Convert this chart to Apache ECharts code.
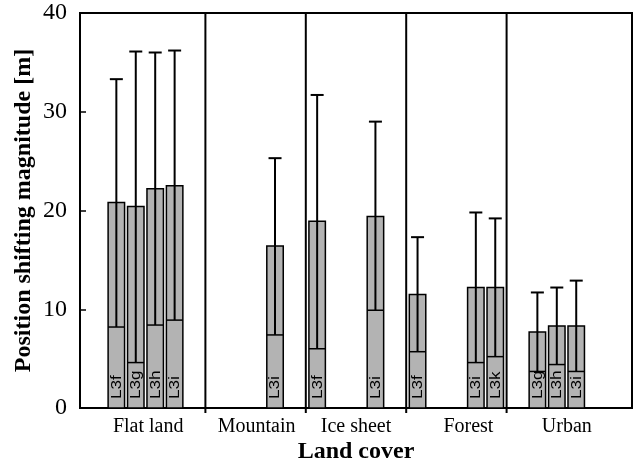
<!DOCTYPE html>
<html>
<head>
<meta charset="utf-8">
<script src="https://cdn.jsdelivr.net/npm/echarts@6/dist/echarts.min.js"></script>
<style>
  html, body { margin: 0; padding: 0; background: #fff; }
  #chart { width: 637px; height: 460px; }
</style>
</head>
<body>
<div id="chart"></div>
<script>
// Land-cover classes on the category axis
const landCovers = ['Flat land', 'Mountain', 'Ice sheet', 'Forest', 'Urban'];
// Product releases, one slot per release inside each land-cover group
const releases = ['L3f', 'L3g', 'L3h', 'L3i', 'L3k'];
const yTicks = [0, 10, 20, 30, 40];

// Bar height per land cover (null = release not evaluated there)
const barL3f = [20.8, null, 18.9, 11.5, null];
const barL3g = [20.4, null, null, null, 7.7];
const barL3h = [22.2, null, null, null, 8.3];
const barL3i = [22.5, 16.4, 19.4, 12.2, 8.3];
const barL3k = [null, null, null, 12.2, null];

// Division line drawn inside each bar
const lowL3f = [8.2, null, 6.0, 5.7, null];
const lowL3g = [4.6, null, null, null, 3.7];
const lowL3h = [8.4, null, null, null, 4.4];
const lowL3i = [8.9, 7.4, 9.9, 4.6, 3.7];
const lowL3k = [null, null, null, 5.2, null];

// Upper end of the whisker
const capL3f = [33.3, null, 31.7, 17.3, null];
const capL3g = [36.1, null, null, null, 11.7];
const capL3h = [36.0, null, null, null, 12.2];
const capL3i = [36.2, 25.3, 29.0, 19.8, 12.9];
const capL3k = [null, null, null, 19.2, null];

const bars = [barL3f, barL3g, barL3h, barL3i, barL3k];
const lows = [lowL3f, lowL3g, lowL3h, lowL3i, lowL3k];
const caps = [capL3f, capL3g, capL3h, capL3i, capL3k];

const GRAY = '#b3b3b3';
const INK = '#000';
const SERIF = '"Liberation Serif", "Times New Roman", serif';

// horizontal nudges of the group captions (px)
const captionShift = [-7, 1, 0, 12, 10];

const chart = echarts.init(document.getElementById('chart'), null, { renderer: 'canvas' });

function makeReleaseSeries(slot) {
  const data = [];
  landCovers.forEach((_, c) => {
    if (bars[slot][c] != null) {
      data.push([c, lows[slot][c], bars[slot][c], caps[slot][c]]);
    }
  });
  const label = releases[slot];
  return {
    type: 'custom',
    name: label,
    xAxisIndex: 1,
    yAxisIndex: 1,
    encode: { x: 0, y: [1, 2, 3] },
    data: data,
    z: 3,
    renderItem: function (params, api) {
      const cat = api.value(0);
      const band = api.size([1, 0])[0];
      const pitch = band * 0.1935;
      const bw = band * 0.164;
      const base = api.coord([cat, 0]);
      const cx = base[0] + (slot - 2) * pitch;
      const y0 = base[1];
      const yLow = api.coord([cat, api.value(1)])[1];
      const yTop = api.coord([cat, api.value(2)])[1];
      const yCap = api.coord([cat, api.value(3)])[1];
      return {
        type: 'group',
        children: [
          { type: 'rect', shape: { x: cx - bw / 2, y: yTop, width: bw, height: y0 - yTop },
            style: { fill: GRAY, stroke: INK, lineWidth: 1.5 } },
          { type: 'line', shape: { x1: cx - bw / 2, y1: yLow, x2: cx + bw / 2, y2: yLow },
            style: { stroke: INK, lineWidth: 1.5 } },
          { type: 'line', shape: { x1: cx, y1: yLow, x2: cx, y2: yCap },
            style: { stroke: INK, lineWidth: 2 } },
          { type: 'line', shape: { x1: cx - 6.5, y1: yCap, x2: cx + 6.5, y2: yCap },
            style: { stroke: INK, lineWidth: 2 } },
          { type: 'text', x: cx + 0.5, y: y0 - 9, rotation: Math.PI / 2, scaleX: 1.22,
            style: { text: label, fill: INK, fontSize: 14, fontFamily: '"Liberation Sans", Arial, sans-serif',
                     align: 'left', verticalAlign: 'middle' } }
        ]
      };
    }
  };
}

// vertical dividers between land-cover groups
const dividerSeries = {
  type: 'custom',
  xAxisIndex: 1,
  yAxisIndex: 1,
  encode: { x: 0, y: 1 },
  data: [[1, 0], [2, 0], [3, 0], [4, 0]],
  z: 2,
  renderItem: function (params, api) {
    const i = api.value(0);
    const band = api.size([1, 0])[0];
    const x = api.coord([i, 0])[0] - band / 2;
    const yB = api.coord([i, 0])[1] + 5;
    const yT = api.coord([i, 40])[1];
    return { type: 'line', shape: { x1: x, y1: yT, x2: x, y2: yB }, style: { stroke: INK, lineWidth: 2 } };
  }
};

const option = {
  animation: false,
  backgroundColor: '#fff',
  grid: [
    // frame with the value axis
    { left: 80, right: 5, top: 13, bottom: 52, show: true, borderColor: INK, borderWidth: 2,
      backgroundColor: 'transparent', containLabel: false, outerBoundsMode: 'none' },
    // band layout of the land-cover groups
    { left: 105, right: 30, top: 13, bottom: 52, containLabel: false, outerBoundsMode: 'none' }
  ],
  xAxis: [
    { gridIndex: 0, type: 'value', min: 0, max: 1, show: false },
    {
      gridIndex: 1,
      type: 'category',
      data: landCovers.map((n, i) => ({
        value: n,
        textStyle: { padding: captionShift[i] >= 0 ? [0, 0, 0, 2 * captionShift[i]] : [0, -2 * captionShift[i], 0, 0] }
      })),
      axisLine: { show: false },
      axisTick: { show: false },
      splitLine: { show: false },
      axisLabel: { color: INK, fontFamily: SERIF, fontSize: 20, margin: 9, interval: 0, hideOverlap: false },
      name: 'Land cover',
      nameLocation: 'middle',
      nameGap: 32,
      nameMoveOverlap: false,
      nameTextStyle: { color: INK, fontFamily: SERIF, fontWeight: 'bold', fontSize: 24 }
    }
  ],
  yAxis: [
    {
      gridIndex: 0,
      type: 'value',
      min: yTicks[0],
      max: yTicks[yTicks.length - 1],
      interval: yTicks[1] - yTicks[0],
      axisLine: { show: false },
      axisTick: { show: true, inside: true, length: 6, lineStyle: { color: INK, width: 1.5 } },
      splitLine: { show: false },
      axisLabel: { color: INK, fontFamily: SERIF, fontSize: 24, margin: 13 },
      name: 'Position shifting magnitude [m]',
      nameLocation: 'middle',
      nameGap: 44,
      nameMoveOverlap: false,
      nameTextStyle: { color: INK, fontFamily: SERIF, fontWeight: 'bold', fontSize: 24 }
    },
    { gridIndex: 1, type: 'value', min: 0, max: 40, show: false }
  ],
  series: [dividerSeries].concat(releases.map((_, s) => makeReleaseSeries(s)))
};

chart.setOption(option);
</script>
</body>
</html>
